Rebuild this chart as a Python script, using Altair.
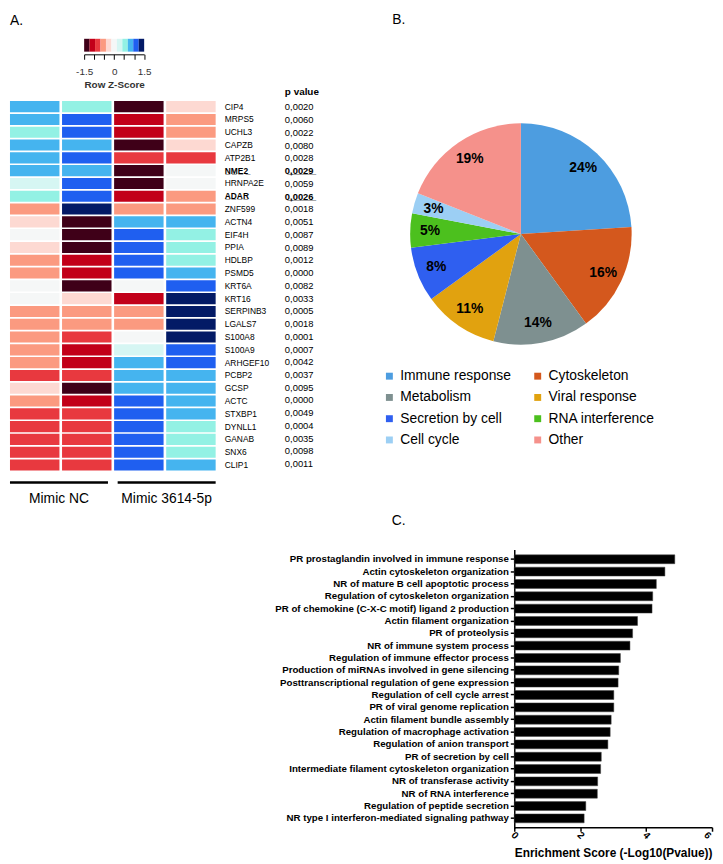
import altair as alt
import pandas as pd

FONT = "Liberation Sans"
W, H = 715, 856

# ---------------- Panel A: heatmap ----------------
genes = ["CIP4", "MRPS5", "UCHL3", "CAPZB", "ATP2B1", "NME2", "HRNPA2E", "ADAR",
         "ZNF599", "ACTN4", "EIF4H", "PPIA", "HDLBP", "PSMD5", "KRT6A", "KRT16",
         "SERPINB3", "LGALS7", "S100A8", "S100A9", "ARHGEF10", "PCBP2", "GCSP",
         "ACTC", "STXBP1", "DYNLL1", "GANAB", "SNX6", "CLIP1"]
pvalues = ["0,0020", "0,0060", "0,0022", "0,0080", "0,0028", "0,0029", "0,0059", "0,0026",
           "0,0018", "0,0051", "0,0087", "0,0089", "0,0012", "0,0000", "0,0082", "0,0033",
           "0,0005", "0,0018", "0,0001", "0,0007", "0,0042", "0,0037", "0,0095",
           "0,0000", "0,0049", "0,0004", "0,0035", "0,0098", "0,0011"]
bold_genes = ["NME2", "ADAR"]
samples = ["NC_1", "NC_2", "M3614_1", "M3614_2"]
groups = ["Mimic NC", "Mimic 3614-5p"]

z_nc1 = [0.9, 0.9, 0.6, 0.9, 0.9, 0.9, 0.3, 0.6, -0.6, -0.3, 0.0, -0.3, -0.6, -0.6, 0.0, 0.0,
         -0.6, -0.6, -0.6, -0.6, -0.6, -0.9, -0.3, -0.6, -0.9, -0.9, -0.9, -0.9, -0.9]
z_nc2 = [0.6, 1.2, 1.2, 0.9, 1.2, 0.9, 1.2, 1.2, 1.5, -1.5, -1.5, -1.5, -1.2, -1.2, -1.5, -0.3,
         -0.6, -0.6, -0.9, -1.2, -1.2, -0.9, -1.5, -1.2, -0.9, -0.9, -0.9, -0.9, -0.9]
z_m1 = [-1.5, -1.2, -1.2, -1.5, -0.9, -1.5, -1.5, -1.2, -0.6, 0.9, 1.2, 1.2, 1.2, 1.2, 0.0, -1.2,
        -0.6, -0.6, 0.0, 0.3, 0.9, 0.9, 0.9, 1.2, 1.2, 1.2, 1.2, 1.2, 1.2]
z_m2 = [-0.3, -0.6, -0.6, -0.3, -0.9, 0.0, 0.0, -0.6, -0.6, 0.9, 0.6, 0.6, 0.6, 0.9, 1.2, 1.5,
        1.5, 1.5, 1.5, 1.2, 1.2, 0.9, 0.9, 0.9, 0.9, 0.6, 0.6, 0.6, 0.9]

z_levels = [-1.5, -1.2, -0.9, -0.6, -0.3, 0.0, 0.3, 0.6, 0.9, 1.2, 1.5]
z_colors = ["#3f0018", "#c20019", "#e8393f", "#fb9a80", "#fdd9d2", "#f5f7f7",
            "#d6f6f3", "#93f1e4", "#45b4ef", "#1f5ff0", "#031a66"]
z_ticks = [-1.5, -1.0, -0.5, 0.0, 0.5, 1.0, 1.5]

# ---------------- Panel B: pie ----------------
pie_categories = ["Immune response", "Cytoskeleton", "Metabolism", "Viral response",
                  "Secretion by cell", "RNA interference", "Cell cycle", "Other"]
pie_pct = [24, 16, 14, 11, 8, 5, 3, 19]
pie_colors = ["#4d9de0", "#d4581d", "#7e9090", "#e1a20f", "#2f5ff0", "#4cc01e", "#9ccff4", "#f5918b"]

# ---------------- Panel C: enrichment bars ----------------
terms = ["PR prostaglandin involved in immune response",
         "Actin cytoskeleton organization",
         "NR of mature B cell apoptotic process",
         "Regulation of cytoskeleton organization",
         "PR of chemokine (C-X-C motif) ligand 2 production",
         "Actin filament organization",
         "PR of proteolysis",
         "NR of immune system process",
         "Regulation of immune effector process",
         "Production of miRNAs involved in gene silencing",
         "Posttranscriptional regulation of gene expression",
         "Regulation of cell cycle arrest",
         "PR of viral genome replication",
         "Actin filament bundle assembly",
         "Regulation of macrophage activation",
         "Regulation of anion transport",
         "PR of secretion by cell",
         "Intermediate filament cytoskeleton organization",
         "NR of transferase activity",
         "NR of RNA interference",
         "Regulation of peptide secretion",
         "NR type I interferon-mediated signaling pathway"]
scores = [4.87, 4.57, 4.31, 4.20, 4.18, 3.74, 3.59, 3.51, 3.22, 3.17, 3.15, 3.02, 3.02,
          2.94, 2.91, 2.84, 2.64, 2.62, 2.53, 2.52, 2.17, 2.12]
score_ticks = [0, 2, 4, 6]

# ---------------- tables ----------------
cols = [z_nc1, z_nc2, z_m1, z_m2]
heat_df = pd.DataFrame([
    {"gene": g, "sample": s, "z": cols[j][i]}
    for i, g in enumerate(genes) for j, s in enumerate(samples)
])
gene_df = pd.DataFrame({"gene": genes, "pval": pvalues,
                        "bold": [g in bold_genes for g in genes]})
n_lv = len(z_levels)
cbar_df = pd.DataFrame({
    "z": z_levels,
    "lo": [z_levels[0] + i * (z_levels[-1] - z_levels[0]) / n_lv for i in range(n_lv)],
    "hi": [z_levels[0] + (i + 1) * (z_levels[-1] - z_levels[0]) / n_lv for i in range(n_lv)],
})
grp_df = pd.DataFrame({"group": groups})
pie_df = pd.DataFrame({"cat": pie_categories, "pct": pie_pct,
                       "idx": list(range(len(pie_pct))),
                       "lbl": [f"{p}%" for p in pie_pct]})
bar_df = pd.DataFrame({"term": terms, "score": scores})

# ---------------- scales ----------------
def gene_scale():
    return alt.Scale(domain=genes, range=[89.3, 463], paddingInner=0.13, paddingOuter=0)

heat_color = alt.Scale(type="quantize", domain=[-1.65, 1.65], range=z_colors)

is_bold = "indexof(['NME2','ADAR'], datum.value) >= 0"
bold_cond = {"condition": {"test": is_bold, "value": "bold"}, "value": "normal"}
UL = "\u0332"

heat = alt.Chart(heat_df).mark_rect().encode(
    x=alt.X("sample:N", scale=alt.Scale(domain=samples, range=[2, 210], paddingInner=0.05, paddingOuter=0), axis=None),
    y=alt.Y("gene:N", scale=gene_scale(),
            axis=alt.Axis(orient="right", offset=218.7 - W, domain=False, ticks=False,
                          labelPadding=0, labelFontSize=8.5, labelColor="black",
                          labelFontWeight=bold_cond, labelAlign="left", title=None,
                          labelExpr=f"({is_bold}) ? replace(datum.label, /(.)/g, '$1{UL}') : datum.label")),
    color=alt.Color("z:Q", scale=heat_color, legend=None),
)

pv_normal = alt.Chart(gene_df).transform_filter("!datum.bold").mark_text(
    align="left", baseline="middle", fontSize=9.5, font=FONT, color="black").encode(
    y=alt.Y("gene:N", scale=gene_scale(), axis=None),
    x=alt.value(280),
    text="pval:N",
)
pv_bold = alt.Chart(gene_df).transform_filter("datum.bold").transform_calculate(
    shown=f"replace(datum.pval, /(.)/g, '$1{UL}')"
).mark_text(
    align="left", baseline="middle", fontSize=9.5, font=FONT, fontWeight="bold", color="black").encode(
    y=alt.Y("gene:N", scale=gene_scale(), axis=None),
    x=alt.value(280),
    text="shown:N",
)
pv_header = alt.Chart(pd.DataFrame({"t": ["p value"]})).mark_text(
    align="left", baseline="middle", fontSize=10, font=FONT, fontWeight="bold", color="black").encode(
    x=alt.value(280), y=alt.value(80), text="t:N")

cbar = alt.Chart(cbar_df).mark_rect().encode(
    x=alt.X("lo:Q", scale=alt.Scale(domain=[-1.5, 1.5], range=[77, 137.7], nice=False, zero=False),
            axis=alt.Axis(orient="bottom", offset=42 - H, values=z_ticks,
                          labelExpr="datum.value == -1.5 ? '-1.5' : datum.value == 0 ? '0' : datum.value == 1.5 ? '1.5' : ''",
                          tickSize=5, tickColor="black", domainColor="black", tickWidth=1, domainWidth=1,
                          labelPadding=7, labelFontSize=10, labelColor="#333",
                          labelFlush=False, labelOverlap=False,
                          title="Row Z-Score", titleFontSize=10, titleFontWeight=600,
                          titleColor="#333", titlePadding=4)),
    x2="hi:Q",
    y=alt.value(26.3), y2=alt.value(39.3),
    color=alt.Color("z:Q", scale=heat_color, legend=None),
)

grp = alt.Chart(grp_df).mark_rect(color="black").encode(
    x=alt.X("group:N", scale=alt.Scale(domain=groups, range=[2, 210], paddingInner=0.09, paddingOuter=0),
            axis=alt.Axis(orient="bottom", offset=476.3 - H, domain=False, ticks=False,
                          labelPadding=8, labelFontSize=14, labelAngle=0, labelColor="black",
                          title=None)),
    y=alt.value(473.7), y2=alt.value(476.3),
)

# ---------------- pie ----------------
pie = alt.Chart(pie_df).mark_arc(outerRadius=112).encode(
    theta=alt.Theta("pct:Q", stack=True),
    order=alt.Order("idx:Q"),
    color=alt.Color("cat:N", scale=alt.Scale(domain=pie_categories, range=pie_colors),
                    legend=alt.Legend(orient="none", legendX=378.7, legendY=360.5, columns=2,
                                      direction="horizontal",
                                      title=None, symbolType="square", symbolSize=49,
                                      symbolStrokeWidth=0, labelFontSize=14, labelFont=FONT,
                                      labelColor="black", rowPadding=7.5, columnPadding=19,
                                      labelOffset=4, padding=0)),
    x=alt.value(518.7), y=alt.value(223.7),
)
pie_lbl = alt.Chart(pie_df).mark_text(radius=92, fontWeight="bold", fontSize=14, font=FONT,
                                      color="black").encode(
    theta=alt.Theta("pct:Q", stack=True),
    order=alt.Order("idx:Q"),
    text="lbl:N",
    x=alt.value(518.7), y=alt.value(223.7),
)

# ---------------- bars ----------------
last_shift = {"condition": {"test": "datum.value == 6", "value": -5}, "value": 0}
bars = alt.Chart(bar_df).mark_bar(color="black", stroke="#444", strokeWidth=0.5).encode(
    y=alt.Y("term:N", sort=None,
            scale=alt.Scale(domain=terms, range=[542.7, 824.7], paddingInner=0.28, paddingOuter=0.44),
            axis=alt.Axis(orient="left", offset=-512, domainColor="black", domainWidth=1.5,
                          tickColor="black", tickWidth=1.5, tickSize=4, labelPadding=2,
                          labelFontSize=9.8, labelFontWeight="bold", labelColor="black",
                          labelLimit=400, title=None)),
    x=alt.X("score:Q", scale=alt.Scale(domain=[0, 6], range=[512, 712], nice=False),
            axis=alt.Axis(orient="bottom", offset=823.7 - H, values=score_ticks, labelAngle=45,
                          labelAlign="center", labelBaseline="middle", labelOffset=last_shift,
                          domainColor="black", domainWidth=1.5, tickColor="black", tickWidth=1.5,
                          tickSize=4, labelPadding=4, labelFontSize=10, labelFontWeight="bold",
                          labelColor="black", labelFlush=False,
                          title="Enrichment Score (-Log10(Pvalue))", titleFontSize=12,
                          titleFontWeight="bold", titleColor="black", titlePadding=7)),
)

# ---------------- panel letters ----------------
letters = []
for letter, lx, ly in [("A.", 2, 1), ("B.", 388.7, 0), ("C.", 388, 507)]:
    letters.append(alt.Chart(pd.DataFrame({"t": [letter]})).mark_text(
        align="left", baseline="top", fontSize=14, font=FONT, color="black").encode(
        x=alt.value(lx), y=alt.value(ly), text="t:N"))

chart = alt.layer(heat, pv_normal, pv_bold, pv_header, cbar, grp, pie, pie_lbl, bars, *letters).resolve_scale(
    x="independent", y="independent", color="independent"
).properties(
    width=W, height=H, padding=0, autosize=alt.AutoSizeParams(type="none")
).configure_view(stroke=None).configure_axis(
    grid=False, labelFont=FONT, titleFont=FONT
).configure_text(font=FONT)

chart.save("out.html", embed_options={"renderer": "svg", "actions": False})
